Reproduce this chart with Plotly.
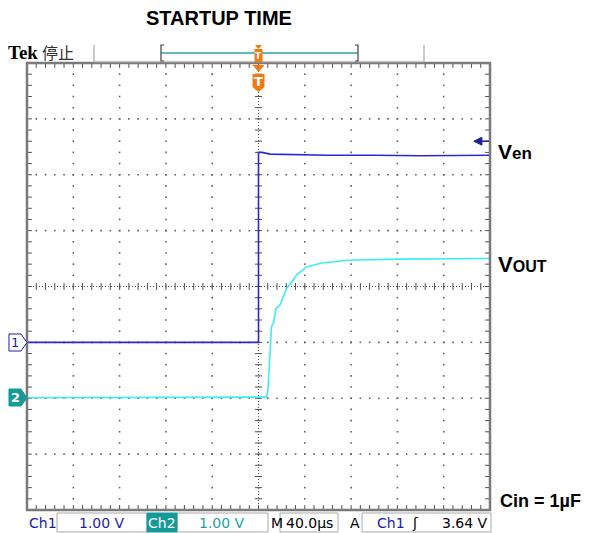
import numpy as np
import plotly.graph_objects as go

# ---------------- data ----------------
ven_t = [-200, 0, 0, 3, 10, 30, 60, 100, 140, 200]          # µs
ven_v = [0.0, 0.0, 3.40, 3.40, 3.37, 3.36, 3.35, 3.35, 3.34, 3.35]  # V
vout_t = [-200, 6.9, 8.2, 9.9, 11.2, 13.0, 15.1, 18.6, 24.4, 30.1, 33.0, 41.6, 54.6, 77.3, 120, 200]
vout_v = [0.01, 0.02, 0.15, 0.80, 1.28, 1.35, 1.60, 1.67, 1.97, 2.12, 2.21, 2.35, 2.42, 2.47, 2.49, 2.50]
ch1_pos_div = -1.0   # ground marker positions (divisions)
ch2_pos_div = -2.0
volts_per_div = 1.0
time_per_div = 40.0  # µs
trig_level = 3.6
status_texts = ["Ch1", "1.00 V", "Ch2", "1.00 V", "M", "40.0µs", "A", "Ch1", "ʃ", "3.64 V"]

W, H = 593, 533
L, R, T, B = 27, 490, 63, 510


def px(x):
    return (x - L) / (R - L)


def py(y):
    return (B - y) / (B - T)


def path(pts):
    s = "M " + " L ".join(f"{px(x):.5f},{py(y):.5f}" for x, y in pts) + " Z"
    return s


fig = go.Figure()

# ---------------- graticule ----------------
gx, gy = [], []
sub_t = np.arange(-200, 200.01, time_per_div / 5)
sub_d = np.arange(-4, 4.001, 0.2)
for k in [-4, -3, -2, -1, 1, 2, 3, 4]:
    for d in sub_d:
        gx.append(k * time_per_div)
        gy.append(d)
for k in [-3, -2, -1, 1, 2, 3]:
    for t in sub_t:
        gx.append(t)
        gy.append(k)
fig.add_trace(go.Scatter(x=gx, y=gy, mode="markers", yaxis="y",
                         marker=dict(symbol="square", size=1.6, color="#606060", line=dict(width=0)),
                         hoverinfo="skip", showlegend=False))
# center ticks
fig.add_trace(go.Scatter(x=sub_t, y=[0] * len(sub_t), mode="markers", yaxis="y",
                         marker=dict(symbol="line-ns", size=5, line=dict(width=1, color="#505050")),
                         hoverinfo="skip", showlegend=False))
fig.add_trace(go.Scatter(x=[0] * len(sub_d), y=sub_d, mode="markers", yaxis="y",
                         marker=dict(symbol="line-ew", size=5, line=dict(width=1, color="#505050")),
                         hoverinfo="skip", showlegend=False))
# border ticks
fig.add_trace(go.Scatter(x=list(sub_t) * 2, y=[4] * len(sub_t) + [-4] * len(sub_t), mode="markers", yaxis="y",
                         marker=dict(symbol="line-ns", size=7, line=dict(width=1, color="#505050")),
                         hoverinfo="skip", showlegend=False))
fig.add_trace(go.Scatter(x=[-200] * len(sub_d) + [200] * len(sub_d), y=list(sub_d) * 2, mode="markers", yaxis="y",
                         marker=dict(symbol="line-ew", size=7, line=dict(width=1, color="#505050")),
                         hoverinfo="skip", showlegend=False))

# ---------------- traces ----------------
fig.add_trace(go.Scatter(x=vout_t, y=vout_v, mode="lines", yaxis="y3",
                         line=dict(color="#3ceef4", width=1.6), hoverinfo="skip", showlegend=False))
fig.add_trace(go.Scatter(x=ven_t, y=ven_v, mode="lines", yaxis="y2",
                         line=dict(color="#2a2ad2", width=1.6), hoverinfo="skip", showlegend=False))

shapes = []
# center cross lines
shapes.append(dict(type="line", xref="x", yref="y", x0=-200, x1=200, y0=0, y1=0,
                   line=dict(color="#505050", width=1, dash="1px,2px"), layer="below"))
shapes.append(dict(type="line", xref="x", yref="y", x0=0, x1=0, y0=-4, y1=4,
                   line=dict(color="#505050", width=1, dash="1px,2px"), layer="below"))
# border
shapes.append(dict(type="rect", xref="paper", yref="paper", x0=0, x1=1, y0=0, y1=1,
                   line=dict(color="#7a7a7a", width=2.5)))
# top bar decorations
shapes.append(dict(type="line", xref="paper", yref="paper", x0=px(94), x1=px(424), y0=py(61.5), y1=py(61.5),
                   line=dict(color="#c8c8c8", width=1.5)))
for xx in (94, 424):
    shapes.append(dict(type="line", xref="paper", yref="paper", x0=px(xx), x1=px(xx), y0=py(45), y1=py(62),
                       line=dict(color="#b8b8b8", width=1.5)))
shapes.append(dict(type="line", xref="paper", yref="paper", x0=px(161), x1=px(358), y0=py(53), y1=py(53),
                   line=dict(color="#30a2a2", width=1.5)))
for xx, dx in ((161, 3), (358, -3)):
    shapes.append(dict(type="path", xref="paper", yref="paper",
                       path=f"M {px(xx+dx)},{py(45)} L {px(xx)},{py(45)} L {px(xx)},{py(61)} L {px(xx+dx)},{py(61)}",
                       line=dict(color="#404040", width=1.2)))
ORANGE = "#f07a10"
cx = 258.5
shapes.append(dict(type="path", xref="paper", yref="paper",
                   path=path([(cx - 3.5, 45), (cx + 3.5, 45), (cx, 49)]), fillcolor=ORANGE, line=dict(width=0)))
shapes.append(dict(type="path", xref="paper", yref="paper",
                   path=path([(cx - 4, 49), (cx + 4, 49), (cx + 4, 62), (cx - 4, 62)]), fillcolor=ORANGE,
                   line=dict(width=0)))
# trigger marker below top border
shapes.append(dict(type="path", xref="paper", yref="paper",
                   path=path([(cx - 6, 65), (cx + 6, 65), (cx, 72)]), fillcolor=ORANGE, line=dict(width=0)))
shapes.append(dict(type="path", xref="paper", yref="paper",
                   path=path([(cx - 6, 74), (cx + 6, 74), (cx + 6, 87), (cx, 92), (cx - 6, 87)]),
                   fillcolor=ORANGE, line=dict(width=0)))
# channel ground markers
BLUE_D = "#1c1ca8"
TEAL = "#16999a"
shapes.append(dict(type="path", xref="paper", yref="paper",
                   path=path([(9, 334), (21, 334), (27, 342.5), (21, 351), (9, 351)]),
                   fillcolor="white", line=dict(color=BLUE_D, width=1)))
shapes.append(dict(type="path", xref="paper", yref="paper",
                   path=path([(9, 389), (21, 389), (27, 398), (21, 406), (9, 406)]),
                   fillcolor=TEAL, line=dict(color=TEAL, width=1)))
# trigger level arrow
shapes.append(dict(type="path", xref="x", yref="y2",
                   path=f"M 186,{trig_level} L 193,{trig_level + 0.07} L 193,{trig_level - 0.07} Z",
                   fillcolor="#1c1c9c", line=dict(color="#1c1c9c", width=1)))
shapes.append(dict(type="line", xref="x", yref="y2", x0=192, x1=199, y0=trig_level, y1=trig_level,
                   line=dict(color="#1c1c9c", width=1.5)))
# status bar boxes
for x0, x1 in ((57, 147), (177, 268), (280, 338), (362, 491)):
    shapes.append(dict(type="rect", xref="paper", yref="paper", x0=px(x0), x1=px(x1), y0=py(532), y1=py(513),
                       fillcolor="white", line=dict(color="#a8a8a8", width=1)))
shapes.append(dict(type="rect", xref="paper", yref="paper", x0=px(147), x1=px(177), y0=py(532), y1=py(513),
                   fillcolor=TEAL, line=dict(color=TEAL, width=1)))

ann = []


def text(x, y, s, size, color="black", family="DejaVu Sans", xanchor="left", weight="normal"):
    ann.append(dict(xref="paper", yref="paper", x=px(x), y=py(y), text=s, showarrow=False,
                    xanchor=xanchor, yanchor="middle",
                    font=dict(family=family, size=size, color=color, weight=weight)))


text(219, 18, "STARTUP TIME", 20, family="Liberation Sans", xanchor="center", weight="bold")
text(6, 52, "Tek", 19, family="Liberation Serif", weight="bold")
text(40, 52, "停止", 16, color="#303030", family="Noto Sans CJK SC")
text(cx, 56, "T", 9, color="white", family="DejaVu Sans", xanchor="center", weight="bold")
text(cx, 81, "T", 13, color="white", family="DejaVu Sans", xanchor="center", weight="bold")
text(15, 342.5, "1", 13, color=BLUE_D, xanchor="center")
text(15, 397.5, "2", 13, color="white", xanchor="center", weight="bold")
text(496, 151, "<span style='font-size:21px'>V</span><span style='font-size:17px'>en</span>", 21,
     family="Liberation Sans", weight="bold")
text(496, 264, "<span style='font-size:22px'>V</span><span style='font-size:16px'>OUT</span>", 22,
     family="Liberation Sans", weight="bold")
text(498, 501, "Cin = 1µF", 18, family="Liberation Sans", weight="bold")

sy = 522.5
text(27, sy, status_texts[0], 14, color=BLUE_D)
text(102, sy, status_texts[1], 14, color=BLUE_D, xanchor="center")
text(162, sy, status_texts[2], 14, color="white", xanchor="center")
text(222, sy, status_texts[3], 14, color="#1aa3a3", xanchor="center")
text(269, sy, status_texts[4], 14)
text(309, sy, status_texts[5], 14, xanchor="center")
text(348, sy, status_texts[6], 14)
text(375, sy, status_texts[7], 14, color=BLUE_D)
text(415, sy, status_texts[8], 14, xanchor="center")
text(490, sy, status_texts[9], 14, xanchor="right")

ax_common = dict(showgrid=False, zeroline=False, showticklabels=False, ticks="", showline=False, fixedrange=True)
fig.update_layout(
    width=W, height=H,
    margin=dict(l=L, r=W - R, t=T, b=H - B, pad=0),
    paper_bgcolor="white", plot_bgcolor="white",
    xaxis=dict(range=[-5 * time_per_div, 5 * time_per_div], **ax_common),
    yaxis=dict(range=[-4, 4], **ax_common),
    yaxis2=dict(range=[(-4 - ch1_pos_div) * volts_per_div, (4 - ch1_pos_div) * volts_per_div],
                overlaying="y", **ax_common),
    yaxis3=dict(range=[(-4 - ch2_pos_div) * volts_per_div, (4 - ch2_pos_div) * volts_per_div],
                overlaying="y", **ax_common),
    shapes=shapes, annotations=ann, showlegend=False,
)
fig.write_html("out.html", config={"displayModeBar": False},
               post_script="document.body.style.margin='0';document.body.style.overflow='hidden';")
